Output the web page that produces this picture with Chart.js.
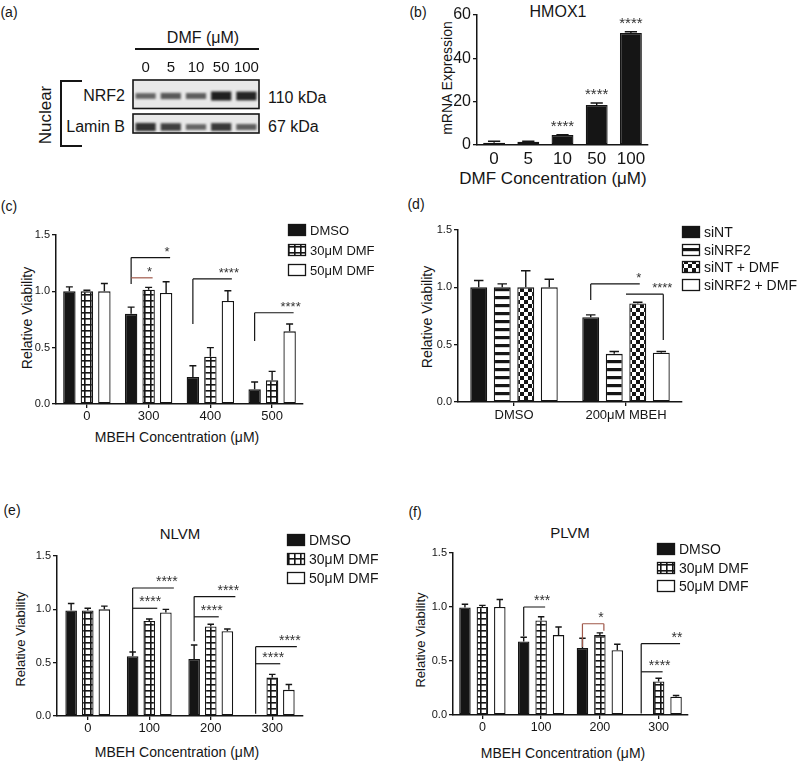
<!DOCTYPE html>
<html>
<head>
<meta charset="utf-8">
<script src="https://cdn.jsdelivr.net/npm/chart.js@4.4.0/dist/chart.umd.min.js"></script>
<style>
  body { margin: 0; width: 800px; height: 762px; position: relative; overflow: hidden; background: #fff;
         font-family: "Liberation Sans", Arial, sans-serif; color: #151515; }
  canvas { position: absolute; left: 0; top: 0; }
  .t { position: absolute; white-space: nowrap; transform: translate(-50%, -50%); line-height: 1; }
  .rt { position: absolute; white-space: nowrap; transform: translate(-100%, -50%); line-height: 1; }
  .lt { position: absolute; white-space: nowrap; transform: translate(0, -50%); line-height: 1; }
  .rot { transform: translate(-50%, -50%) rotate(-90deg); }
  .ln { position: absolute; background: #151515; }
</style>
</head>
<body>
<!-- panel letters -->
<div class="t" style="left:9px;top:12px;font-size:14px">(a)</div>
<div class="t" style="left:418px;top:12px;font-size:14px">(b)</div>
<div class="t" style="left:9px;top:206px;font-size:14px">(c)</div>
<div class="t" style="left:416px;top:204px;font-size:14px">(d)</div>
<div class="t" style="left:12px;top:510px;font-size:14px">(e)</div>
<div class="t" style="left:415px;top:512px;font-size:14px">(f)</div>

<!-- (a) blot labels -->
<div class="t" style="left:203px;top:38px;font-size:16px">DMF (μM)</div>
<div class="ln" style="left:135px;top:48px;width:124px;height:2px"></div>
<div class="rt" style="left:125px;top:96px;font-size:16px">NRF2</div>
<div class="rt" style="left:125px;top:127px;font-size:16px">Lamin B</div>
<div class="lt" style="left:268px;top:98px;font-size:16px">110 kDa</div>
<div class="lt" style="left:268px;top:127px;font-size:16px">67 kDa</div>
<div class="t rot" style="left:45px;top:115px;font-size:17px">Nuclear</div>
<div class="ln" style="left:60px;top:80px;width:2px;height:67px"></div>
<div class="ln" style="left:60px;top:80px;width:22px;height:2px"></div>
<div class="ln" style="left:60px;top:145px;width:22px;height:2px"></div>

<!-- (b) -->
<div class="t" style="left:558px;top:12px;font-size:16px">HMOX1</div>
<div class="t rot" style="left:447px;top:78px;font-size:14px">mRNA Expression</div>
<div class="t" style="left:553px;top:178px;font-size:17px">DMF Concentration (μM)</div>

<!-- (c) -->
<div class="t rot" style="left:27px;top:318px;font-size:14px">Relative Viability</div>
<div class="t" style="left:177px;top:437px;font-size:14px">MBEH Concentration (μM)</div>

<!-- (d) -->
<div class="t rot" style="left:427px;top:317px;font-size:14px">Relative Viability</div>

<!-- (e) -->
<div class="t" style="left:180px;top:533px;font-size:15px">NLVM</div>
<div class="t rot" style="left:20px;top:639px;font-size:13px">Relative Viability</div>
<div class="t" style="left:177px;top:752px;font-size:14px">MBEH Concentration (μM)</div>

<!-- (f) -->
<div class="t" style="left:570px;top:532px;font-size:15px">PLVM</div>
<div class="t rot" style="left:420px;top:640px;font-size:13px">Relative Viability</div>
<div class="t" style="left:563px;top:753px;font-size:14px">MBEH Concentration (μM)</div>

<script>
// ---- data ----
var blotLanes = ["0", "5", "10", "50", "100"]
var nrf2Band = [0.45, 0.55, 0.5, 1.0, 0.95]
var laminBand = [0.85, 0.75, 0.45, 0.8, 0.5]

var hmoxDoses = ["0", "5", "10", "50", "100"]
var hmoxMean = [1.0, 1.5, 4.6, 18.5, 51.7]
var hmoxErr = [0.7, 0.2, 0.2, 0.9, 0.6]
var hmoxSig = ["", "", "****", "****", "****"]

var mbehC = ["0", "300", "400", "500"]
var cDMSO = [1.0, 0.80, 0.24, 0.13]
var cDMSOErr = [0.04, 0.06, 0.1, 0.065]
var cDMF30 = [1.0, 1.015, 0.42, 0.21]
var cDMF30Err = [0.01, 0.02, 0.08, 0.08]
var cDMF50 = [1.0, 0.985, 0.915, 0.645]
var cDMF50Err = [0.07, 0.1, 0.09, 0.065]
var cSig = [
  [1, 0, 2, 1.30, 1.065, null, "*"],
  [1, 0, 1, 1.12, null, null, "*", "#a0584a"],
  [2, 0, 2, 1.11, 0.71, null, "****"],
  [3, 0, 2, 0.81, 0.56, null, "****"]
]

var dGroups = ["DMSO", "200μM MBEH"]
var dSiNT = [1.0, 0.74]
var dSiNTErr = [0.06, 0.02]
var dSiNRF2 = [1.0, 0.42]
var dSiNRF2Err = [0.03, 0.02]
var dSiNTDMF = [1.0, 0.86]
var dSiNTDMFErr = [0.145, 0.01]
var dSiNRF2DMF = [1.0, 0.43]
var dSiNRF2DMFErr = [0.07, 0.01]
var dSig = [
  [1, 0, 2, 1.03, 0.89, null, "*"],
  [1, 1.5, 3, 0.94, null, 0.54, "****"]
]

var mbehEF = ["0", "100", "200", "300"]
var eDMSO = [0.99, 0.56, 0.535, 0.006]
var eDMSOErr = [0.065, 0.04, 0.13, 0]
var eDMF30 = [0.99, 0.89, 0.84, 0.36]
var eDMF30Err = [0.02, 0.02, 0.02, 0.03]
var eDMF50 = [1.0, 0.97, 0.795, 0.245]
var eDMF50Err = [0.03, 0.03, 0.02, 0.05]
var eSig = [
  [1, 0, 2, 1.20, 0.57, null, "****"],
  [1, 0, 1, 1.01, null, null, "****"],
  [2, 0, 2, 1.12, 0.70, null, "****"],
  [2, 0, 1, 0.93, null, null, "****"],
  [3, 0, 2, 0.65, 0.02, null, "****"],
  [3, 0, 1, 0.49, null, null, "****"]
]

var fDMSO = [0.996, 0.68, 0.62, 0.006]
var fDMSOErr = [0.03, 0.04, 0.09, 0]
var fDMF30 = [1.0, 0.875, 0.74, 0.31]
var fDMF30Err = [0.015, 0.035, 0.02, 0.03]
var fDMF50 = [1.0, 0.74, 0.60, 0.17]
var fDMF50Err = [0.07, 0.075, 0.055, 0.01]
var fSig = [
  [1, 0, 1, 1.0, 0.73, null, "***"],
  [2, 0, 1, 0.845, 0.63, 0.78, "*", "#a0584a"],
  [3, 0, 2, 0.66, 0.015, null, "**"],
  [3, 0, 1, 0.40, null, null, "****"]
]

// ---- styling helpers ----
var FONT = '"Liberation Sans", Arial, sans-serif'
var INK = "#151515"
Chart.defaults.font.family = FONT
Chart.defaults.color = INK

function tile(w, h, draw) {
  var c = document.createElement("canvas")
  c.width = w; c.height = h
  var x = c.getContext("2d")
  x.fillStyle = "#fff"; x.fillRect(0, 0, w, h)
  x.fillStyle = INK; draw(x)
  return x.createPattern(c, "repeat")
}
var gridFill = tile(6, 6, function(x) { x.fillRect(0, 0, 6, 1.6); x.fillRect(0, 0, 1.6, 6) })
var stripeFill = tile(8, 8, function(x) { x.fillRect(0, 0, 8, 3.2) })
var checkFill = tile(8, 8, function(x) { x.fillRect(0, 0, 4, 4); x.fillRect(4, 4, 4, 4) })

function newCanvas() {
  var c = document.createElement("canvas")
  c.width = 800; c.height = 762
  document.body.appendChild(c)
  return c
}

function bars(label, data, errors, fill) {
  return {
    label: label, data: data, errors: errors,
    backgroundColor: fill, borderColor: INK, borderWidth: 1.3, borderSkipped: false
  }
}

// x position of a bar in a group; fractional index sits between two bars
function barX(chart, g, d) {
  var lo = Math.floor(d), hi = Math.ceil(d)
  var a = chart.getDatasetMeta(lo).data[g].x
  var b = chart.getDatasetMeta(hi).data[g].x
  return a + (b - a) * (d - lo)
}

function extras(o) {
  return {
    id: "extras",
    afterDatasetsDraw: function(chart) {
      var ctx = chart.ctx, y = chart.scales.y
      ctx.save()
      ctx.strokeStyle = INK
      ctx.lineWidth = 1.4
      // upward error bars
      chart.data.datasets.forEach(function(ds, di) {
        chart.getDatasetMeta(di).data.forEach(function(bar, i) {
          var e = ds.errors[i]
          if (!e) return
          var top = y.getPixelForValue(ds.data[i] + e), cap = bar.width * 0.28
          ctx.beginPath()
          ctx.moveTo(bar.x, bar.y); ctx.lineTo(bar.x, top)
          ctx.moveTo(bar.x - cap, top); ctx.lineTo(bar.x + cap, top)
          ctx.stroke()
        })
      })
      // stars straight above bars (panel b)
      if (o.sig) {
        ctx.fillStyle = "#333"
        ctx.font = o.starSize + "px " + FONT
        ctx.textAlign = "center"
        ctx.textBaseline = "alphabetic"
        var ds0 = chart.data.datasets[0]
        chart.getDatasetMeta(0).data.forEach(function(bar, i) {
          if (!o.sig[i]) return
          ctx.fillText(o.sig[i], bar.x, y.getPixelForValue(ds0.data[i] + ds0.errors[i]) - 4)
        })
      }
      // significance brackets
      if (o.brackets) {
        ctx.lineWidth = 1.2
        ctx.font = o.starSize + "px " + FONT
        ctx.textAlign = "center"
        ctx.textBaseline = "alphabetic"
        o.brackets.forEach(function(s) {
          var ax = barX(chart, s[0], s[1]), bx = barX(chart, s[0], s[2])
          var ex = bx + o.ext, ly = y.getPixelForValue(s[3])
          ctx.strokeStyle = s[7] || INK
          ctx.beginPath()
          ctx.moveTo(ax, ly); ctx.lineTo(ex, ly)
          if (s[4] != null) { ctx.moveTo(ax, ly); ctx.lineTo(ax, y.getPixelForValue(s[4])) }
          if (s[5] != null) { ctx.moveTo(ex, ly); ctx.lineTo(ex, y.getPixelForValue(s[5])) }
          ctx.stroke()
          ctx.fillStyle = "#333"
          ctx.fillText(s[6], bx + 1, ly - 2)
        })
      }
      ctx.restore()
    },
    afterDraw: function(chart) {
      var lg = o.legend
      if (!lg) return
      var ctx = chart.ctx
      ctx.save()
      ctx.font = lg.size + "px " + FONT
      ctx.textBaseline = "middle"
      ctx.lineWidth = 1.3
      ctx.strokeStyle = INK
      chart.data.datasets.forEach(function(ds, i) {
        var yy = Math.round(lg.y + i * lg.dy)
        ctx.fillStyle = ds.backgroundColor
        ctx.fillRect(lg.x, yy - 6, 18, 12)
        ctx.strokeRect(lg.x + 0.5, yy - 5.5, 17, 11)
        ctx.fillStyle = INK
        ctx.fillText(ds.label, lg.x + 22, yy + 1)
      })
      ctx.restore()
    }
  }
}

// area = page pixels of the plot box: left/right of x axis, top (max tick) and bottom (zero)
function barPanel(area, labels, datasets, o) {
  var YW = 50, XH = 30
  return new Chart(newCanvas(), {
    type: "bar",
    data: { labels: labels, datasets: datasets },
    options: {
      responsive: false, animation: false, devicePixelRatio: 1,
      layout: { padding: { left: area.l - YW, top: area.t, right: 800 - area.r, bottom: 762 - area.b - XH } },
      categoryPercentage: o.cat, barPercentage: o.bar,
      plugins: { legend: { display: false }, tooltip: { enabled: false } },
      scales: {
        x: {
          afterFit: function(s) { s.height = XH },
          grid: { drawOnChartArea: false, offset: false, tickLength: o.xTick, color: INK, tickColor: o.xTickColor || INK, lineWidth: 1.3 },
          border: { color: INK, width: 1.5 },
          ticks: { font: { size: o.xFont }, padding: o.xPad, color: INK, maxRotation: 0 }
        },
        y: {
          min: 0, max: o.yMax,
          afterFit: function(s) { s.width = YW },
          grid: { drawOnChartArea: false, tickLength: 4, color: INK, lineWidth: 1.3 },
          border: { color: INK, width: 1.5 },
          ticks: { stepSize: o.yStep, font: { size: o.yFont }, padding: 2, color: INK, callback: o.yFmt }
        }
      }
    },
    plugins: [extras(o)]
  })
}

function oneDecimal(v) { return v.toFixed(1) }

// ---- (a) western blot bands ----
var BOX_NRF2 = [0, 28.5], BOX_LAMIN = [34, 53], ROW_NRF2 = 16, ROW_LAMIN = 47
function band(row, v) { var h = 3 + 6 * v; return [row - h / 2, row + h / 2] }
function shade(v) { return "rgba(20,20,20," + (0.35 + 0.6 * v).toFixed(2) + ")" }

new Chart(newCanvas(), {
  type: "bar",
  data: {
    labels: blotLanes,
    datasets: [
      { data: nrf2Band.map(function(v) { return band(ROW_NRF2, v) }), backgroundColor: nrf2Band.map(shade) },
      { data: laminBand.map(function(v) { return band(ROW_LAMIN, v) }), backgroundColor: laminBand.map(shade) }
    ]
  },
  options: {
    responsive: false, animation: false, devicePixelRatio: 1,
    grouped: false, categoryPercentage: 1, barPercentage: 0.8,
    layout: { padding: { left: 133, top: 80, right: 800 - 259, bottom: 762 - 133 } },
    plugins: { legend: { display: false }, tooltip: { enabled: false } },
    scales: {
      x: { display: false },
      y: { display: false, min: 0, max: 53, reverse: true }
    }
  },
  plugins: [{
    id: "blot",
    beforeDatasetsDraw: function(chart) {
      var ctx = chart.ctx, y = chart.scales.y, a = chart.chartArea
      ctx.save()
      ctx.fillStyle = "#e8e8e8"
      ;[BOX_NRF2, BOX_LAMIN].forEach(function(b) {
        ctx.fillRect(a.left, y.getPixelForValue(b[0]), a.right - a.left, y.getPixelForValue(b[1]) - y.getPixelForValue(b[0]))
      })
      ctx.restore()
      ctx.save()
      ctx.filter = "blur(1.3px)"
    },
    afterDatasetsDraw: function(chart) {
      var ctx = chart.ctx, y = chart.scales.y, x = chart.scales.x, a = chart.chartArea
      ctx.restore()
      ctx.save()
      ctx.strokeStyle = INK
      ctx.lineWidth = 1.6
      ;[BOX_NRF2, BOX_LAMIN].forEach(function(b) {
        ctx.strokeRect(a.left, y.getPixelForValue(b[0]), a.right - a.left, y.getPixelForValue(b[1]) - y.getPixelForValue(b[0]))
      })
      ctx.fillStyle = INK
      ctx.font = "15px 'Liberation Sans Narrow', " + FONT
      ctx.textAlign = "center"
      ctx.textBaseline = "middle"
      blotLanes.forEach(function(l, i) { ctx.fillText(l, x.getPixelForValue(i), 68) })
      ctx.restore()
    }
  }]
})

// ---- (b) HMOX1 ----
barPanel({ l: 477, r: 648, t: 15, b: 145 }, hmoxDoses,
  [bars("HMOX1", hmoxMean, hmoxErr, INK)],
  { cat: 1, bar: 0.64, yMax: 60, yStep: 20, yFont: 16, xFont: 17, xTick: 3, xPad: 1, xTickColor: "rgba(0,0,0,0)",
    sig: hmoxSig, starSize: 15 })

// ---- (c) ----
barPanel({ l: 56, r: 303, t: 235, b: 404 }, mbehC,
  [bars("DMSO", cDMSO, cDMSOErr, INK),
   bars("30μM DMF", cDMF30, cDMF30Err, gridFill),
   bars("50μM DMF", cDMF50, cDMF50Err, "#fff")],
  { cat: 0.85, bar: 0.71, yMax: 1.5, yStep: 0.5, yFmt: oneDecimal, yFont: 11, xFont: 13, xTick: 4, xPad: 1,
    brackets: cSig, starSize: 13, ext: 4, legend: { x: 288, y: 230, dy: 20, size: 13 } })

// ---- (d) ----
barPanel({ l: 458, r: 682, t: 230, b: 402 }, dGroups,
  [bars("siNT", dSiNT, dSiNTErr, INK),
   bars("siNRF2", dSiNRF2, dSiNRF2Err, stripeFill),
   bars("siNT + DMF", dSiNTDMF, dSiNTDMFErr, checkFill),
   bars("siNRF2 + DMF", dSiNRF2DMF, dSiNRF2DMFErr, "#fff")],
  { cat: 0.84, bar: 0.72, yMax: 1.5, yStep: 0.5, yFmt: oneDecimal, yFont: 11, xFont: 13, xTick: 4, xPad: 2,
    brackets: dSig, starSize: 13, ext: 2, legend: { x: 682, y: 232, dy: 17.7, size: 14 } })

// ---- (e) NLVM ----
barPanel({ l: 57, r: 303, t: 556, b: 716 }, mbehEF,
  [bars("DMSO", eDMSO, eDMSOErr, INK),
   bars("30μM DMF", eDMF30, eDMF30Err, gridFill),
   bars("50μM DMF", eDMF50, eDMF50Err, "#fff")],
  { cat: 0.81, bar: 0.7, yMax: 1.5, yStep: 0.5, yFmt: oneDecimal, yFont: 11, xFont: 13, xTick: 4, xPad: 1,
    brackets: eSig, starSize: 14, ext: 8, legend: { x: 287, y: 540, dy: 19, size: 14 } })

// ---- (f) PLVM ----
barPanel({ l: 453, r: 688, t: 553, b: 715 }, mbehEF,
  [bars("DMSO", fDMSO, fDMSOErr, INK),
   bars("30μM DMF", fDMF30, fDMF30Err, gridFill),
   bars("50μM DMF", fDMF50, fDMF50Err, "#fff")],
  { cat: 0.89, bar: 0.66, yMax: 1.5, yStep: 0.5, yFmt: oneDecimal, yFont: 11, xFont: 12.5, xTick: 4, xPad: 1,
    brackets: fSig, starSize: 14, ext: 4, legend: { x: 657, y: 549, dy: 18.5, size: 14 } })
</script>
</body>
</html>
